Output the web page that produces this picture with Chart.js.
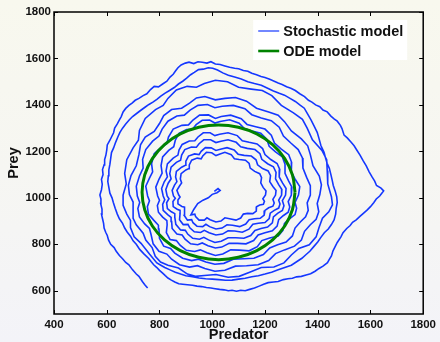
<!DOCTYPE html>
<html><head><meta charset="utf-8">
<script src="https://cdn.jsdelivr.net/npm/chart.js@4.4.0/dist/chart.umd.min.js"></script>
<style>
html,body{margin:0;padding:0;width:440px;height:342px;overflow:hidden;
background:linear-gradient(to bottom,#f8f8ee 0%,#f6f6f2 50%,#f3f3f8 100%);}
canvas{display:block}
</style></head><body>
<canvas id="c" width="440" height="342"></canvas>
<script>
const xTicks = [400, 600, 800, 1000, 1200, 1400, 1600, 1800];
const yTicks = [600, 800, 1000, 1200, 1400, 1600, 1800];
const seriesNames = ['Stochastic model', 'ODE model'];
const axisTitles = ['Predator', 'Prey'];

// stochastic trajectory [predator, prey] (outer loop to centre)
const stochasticPath = [
[755,612],[745,625],[735,640],[722,662],[712,672],[698,690],[684,712],[672,722],[660,738],[648,752],[636,770],[628,786],[615,800],[607,818],[602,838],[596,852],[590,870],[588,890],[584,910],[580,930],[582,952],[577,975],[578,995],[574,1012],[580,1035],[583,1058],[580,1080],[586,1100],[584,1122],[590,1142],[592,1165],[597,1185],[600,1205],[602,1228],[612,1248],[618,1262],[626,1280],[630,1300],[640,1318],[648,1336],[655,1350],[662,1370],[672,1385],[684,1398],[696,1408],[708,1420],[722,1428],[738,1440],[752,1448],[766,1466],[780,1480],[796,1478],[812,1490],[828,1502],[840,1520],[852,1532],[862,1548],[870,1560],[882,1572],[898,1580],[912,1584],[930,1578],[946,1586],[962,1584],[980,1580],[995,1586],[1012,1576],[1030,1574],[1048,1568],[1066,1562],[1085,1558],[1100,1556],[1118,1548],[1135,1545],[1150,1536],[1168,1530],[1185,1522],[1200,1518],[1218,1510],[1235,1502],[1250,1494],[1265,1488],[1282,1478],[1298,1472],[1315,1462],[1332,1448],[1350,1436],[1365,1420],[1378,1412],[1392,1400],[1408,1392],[1420,1378],[1436,1370],[1450,1352],[1462,1340],[1474,1330],[1486,1312],[1492,1298],[1500,1270],[1512,1258],[1526,1240],[1538,1224],[1548,1206],[1561,1183],[1572,1160],[1584,1138],[1595,1112],[1606,1090],[1616,1072],[1623,1053],[1640,1042],[1650,1030],[1643,1020],[1635,1008],[1622,995],[1613,980],[1600,962],[1588,948],[1572,932],[1560,920],[1546,905],[1532,895],[1523,881],[1510,868],[1496,850],[1488,832],[1474,808],[1466,790],[1458,772],[1452,750],[1444,735],[1437,721],[1420,706],[1405,696],[1390,684],[1373,673],[1356,668],[1338,662],[1320,660],[1304,654],[1287,652],[1270,648],[1250,640],[1232,638],[1212,635],[1195,628],[1178,620],[1160,612],[1142,606],[1125,600],[1108,602],[1092,598],[1075,602],[1061,600],[1045,604],[1028,606],[1011,609],[995,612],[978,614],[960,618],[942,620],[925,624],[906,626],[888,628],[873,630],[858,638],[845,646],[832,655],[822,665],[812,676],[800,688],[790,700],[778,712],[768,726],[760,738],
[740,760],[725,778],[712,800],[700,815],[690,835],[678,852],[668,870],[660,890],[648,910],[640,930],[632,955],[625,980],[620,1000],[612,1020],[608,1045],[604,1070],[606,1095],[608,1120],[612,1145],[615,1170],[618,1195],[626,1215],[634,1240],[642,1262],[650,1282],[660,1300],[672,1318],[685,1335],[698,1350],[712,1362],[728,1376],[745,1390],[760,1402],[775,1412],[790,1424],[805,1438],[820,1450],[838,1462],[856,1475],[872,1490],[888,1502],[903,1515],[918,1530],[932,1540],[948,1552],[966,1554],[985,1560],[1002,1558],[1020,1550],[1040,1538],[1061,1528],[1085,1520],[1110,1512],[1135,1500],[1160,1492],[1186,1485],[1210,1472],[1232,1460],[1254,1450],[1274,1442],[1295,1428],[1315,1415],[1332,1400],[1349,1386],[1362,1360],[1375,1335],[1386,1310],[1398,1282],[1405,1255],[1412,1225],[1424,1196],[1430,1170],[1436,1148],[1444,1127],[1450,1100],[1455,1075],[1459,1053],[1466,1030],[1472,1005],[1474,980],[1470,955],[1468,930],[1462,905],[1452,885],[1440,866],[1425,850],[1412,830],[1400,810],[1385,790],[1370,770],[1355,755],[1340,740],[1320,725],[1300,710],[1275,700],[1250,690],[1225,680],[1200,672],[1175,665],[1150,660],[1125,654],[1100,650],[1075,646],[1050,645],[1025,648],[1000,650],[975,652],[950,655],[925,660],[900,665],[880,672],[860,680],[840,690],[820,700],[805,710],[790,720],[762,758],
[730,804],[704,832],[690,872],[690,903],[676,930],[662,968],[662,1012],[674,1060],[668,1105],[676,1164],[700,1215],[720,1248],[724,1290],[746,1342],[785,1380],[814,1398],[832,1428],[864,1464],[905,1480],[940,1476],[970,1492],[1012,1506],[1058,1500],[1100,1476],[1148,1468],[1190,1462],[1226,1440],[1262,1398],[1308,1366],[1342,1338],[1360,1300],[1380,1250],[1416,1204],[1434,1164],[1436,1118],[1438,1060],[1452,1005],[1456,970],[1442,940],[1418,912],[1405,872],[1394,832],[1368,798],[1328,782],[1300,754],[1272,720],[1234,702],[1186,700],[1142,680],[1102,662],[1060,658],[1014,670],[970,666],[936,662],[906,672],[872,698],[832,710],[804,724],[784,748],[772,786],
[748,818],[738,848],[712,884],[700,912],[700,946],[700,982],[686,1014],[682,1054],[692,1096],[712,1138],[722,1186],[728,1228],[746,1262],[780,1286],[800,1320],[816,1354],[846,1380],[884,1386],[914,1408],[940,1430],[972,1436],[1012,1422],[1048,1428],[1088,1432],[1130,1416],[1168,1386],[1214,1370],[1250,1356],[1274,1328],[1300,1288],[1338,1254],[1362,1224],[1372,1186],[1382,1138],[1406,1094],[1414,1056],[1408,1014],[1398,976],[1404,940],[1394,908],[1372,884],[1350,856],[1338,818],[1312,792],[1274,776],[1240,760],[1214,730],[1174,712],[1130,708],[1088,706],[1048,688],[1010,684],[972,696],[944,708],[914,702],[876,712],[846,736],[828,758],[798,770],[776,802],
[768,842],[762,868],[744,888],[724,918],[718,954],[725,980],[716,1008],[712,1050],[724,1094],[738,1128],[736,1166],[748,1208],[774,1244],[798,1266],[810,1296],[832,1330],[866,1352],[894,1356],[916,1378],[946,1398],[982,1402],[1010,1388],[1038,1394],[1080,1398],[1124,1384],[1150,1358],[1186,1344],[1224,1332],[1254,1304],[1270,1266],[1298,1236],[1326,1208],[1342,1172],[1344,1128],[1358,1088],[1372,1052],[1372,1012],[1360,978],[1364,946],[1354,918],[1334,896],[1314,870],[1304,836],[1280,810],[1248,798],[1218,784],[1194,756],[1158,740],[1118,738],[1080,736],[1044,718],[1010,714],[976,724],[948,736],[922,730],[888,740],[858,762],[842,782],[816,792],[800,826],
[798,866],[796,882],[778,904],[758,930],[754,962],[762,987],[755,1008],[748,1050],[762,1085],[774,1112],[770,1147],[780,1190],[805,1216],[828,1234],[834,1262],[852,1296],[885,1312],[910,1314],[927,1335],[952,1356],[986,1357],[1012,1342],[1034,1350],[1070,1356],[1110,1341],[1132,1316],[1165,1306],[1200,1296],[1224,1270],[1236,1236],[1262,1210],[1290,1186],[1301,1153],[1300,1112],[1315,1079],[1332,1048],[1327,1012],[1314,980],[1320,955],[1314,928],[1294,911],[1274,890],[1268,860],[1250,836],[1218,827],[1188,816],[1171,790],[1140,772],[1104,775],[1070,776],[1040,758],[1012,752],[980,764],[955,776],[933,769],[902,774],[878,796],[864,816],[840,821],[826,850],
[829,884],[828,902],[812,917],[796,938],[792,967],[800,990],[793,1008],[786,1046],[798,1080],[810,1106],[806,1139],[812,1176],[835,1204],[854,1220],[860,1248],[874,1278],[903,1294],[926,1296],[939,1315],[962,1334],[990,1335],[1010,1322],[1030,1329],[1066,1336],[1102,1321],[1122,1298],[1151,1288],[1184,1278],[1206,1254],[1216,1222],[1240,1198],[1266,1176],[1276,1145],[1276,1106],[1289,1074],[1302,1046],[1300,1012],[1288,984],[1294,961],[1288,938],[1269,923],[1252,906],[1246,878],[1228,858],[1200,850],[1174,840],[1157,816],[1128,802],[1096,804],[1064,804],[1036,788],[1012,784],[984,794],[962,806],[945,798],[918,802],[897,822],[886,840],[866,844],[848,868],
[846,898],[844,916],[831,928],[814,946],[812,972],[820,992],[814,1008],[808,1040],[818,1069],[830,1090],[825,1116],[830,1146],[852,1171],[870,1184],[874,1206],[886,1230],[913,1245],[934,1246],[946,1262],[966,1280],[992,1280],[1010,1268],[1028,1274],[1060,1280],[1095,1268],[1114,1246],[1140,1239],[1170,1232],[1191,1212],[1200,1186],[1222,1165],[1246,1148],[1256,1122],[1254,1090],[1267,1063],[1280,1040],[1278,1012],[1266,988],[1272,966],[1266,946],[1249,934],[1232,918],[1228,892],[1210,874],[1185,868],[1162,860],[1146,838],[1120,826],[1089,828],[1060,828],[1034,813],[1010,808],[986,819],[968,830],[952,822],[926,826],[907,844],[898,860],[880,862],[862,886],
[858,917],[858,932],[845,940],[830,954],[827,979],[836,996],[829,1008],[824,1036],[833,1063],[844,1082],[839,1104],[844,1132],[864,1153],[880,1162],[884,1184],[896,1208],[921,1219],[940,1218],[950,1233],[968,1250],[994,1250],[1014,1238],[1033,1244],[1060,1250],[1091,1239],[1108,1220],[1133,1213],[1162,1208],[1181,1190],[1188,1166],[1210,1147],[1232,1134],[1242,1110],[1240,1082],[1252,1057],[1264,1036],[1263,1012],[1252,990],[1257,973],[1252,956],[1235,946],[1220,934],[1216,911],[1200,894],[1175,891],[1154,886],[1139,865],[1114,852],[1085,857],[1060,858],[1039,844],[1014,840],[988,850],[970,860],[956,851],[932,854],[915,871],[908,886],[890,885],[876,906],
[878,932],[878,946],[867,951],[852,962],[851,984],[860,998],[853,1008],[848,1032],[857,1055],[866,1070],[861,1090],[864,1114],[884,1132],[898,1140],[900,1158],[910,1180],[933,1189],[950,1186],[958,1200],[974,1216],[996,1215],[1014,1204],[1031,1209],[1056,1216],[1083,1206],[1098,1188],[1121,1183],[1148,1180],[1166,1164],[1172,1142],[1191,1126],[1212,1116],[1221,1096],[1218,1070],[1230,1049],[1242,1032],[1240,1012],[1230,994],[1235,978],[1230,964],[1214,957],[1200,946],[1197,926],[1182,912],[1160,910],[1140,906],[1127,887],[1104,876],[1077,882],[1056,884],[1037,870],[1014,866],[990,876],[976,886],[964,876],[942,878],[927,893],[922,906],[906,904],[894,924],
[894,949],[896,960],[885,963],[870,974],[870,991],[878,1004],[873,1012],[866,1032],[876,1051],[884,1064],[879,1081],[882,1104],[900,1120],[912,1126],[913,1142],[922,1162],[943,1171],[958,1168],[964,1180],[978,1196],[998,1194],[1014,1182],[1027,1188],[1048,1196],[1072,1186],[1084,1168],[1102,1165],[1126,1162],[1140,1148],[1144,1128],[1161,1114],[1180,1104],[1187,1087],[1184,1064],[1193,1045],[1204,1030],[1202,1012],[1192,996],[1198,985],[1194,972],[1180,969],[1168,962],[1167,943],[1154,932],[1134,933],[1118,930],[1108,913],[1090,904],[1066,910],[1048,914],[1033,900],[1014,896],[992,906],[980,914],[970,904],[950,904],[937,919],[934,930],[919,927],
[930,950],[945,975],[965,990],[985,1000],[1000,1015],[1018,1022],[1030,1032],[1022,1040],[1008,1028]
];

// ODE limit cycle [predator, prey]
const odePath = [
[1314,1024],[1304,1099],[1275,1169],[1229,1229],[1169,1275],[1099,1304],[1024,1314],[949,1304],[879,1275],[819,1229],[773,1169],[744,1099],[734,1024],[744,949],[773,879],[819,819],[879,773],[949,744],[1024,734],[1099,744],[1169,773],[1229,819],[1275,879],[1304,949],[1314,1024]
];

const FONT = '"Liberation Sans", Arial, Helvetica, sans-serif';
const toXY = arr => arr.map(p => ({x: p[0], y: p[1]}));

const framePlugin = {
  id: 'frame',
  afterDraw(chart) {
    const {ctx, chartArea: a, scales: {x, y}} = chart;
    ctx.save();
    ctx.strokeStyle = '#000';
    ctx.lineWidth = 1.5;
    ctx.strokeRect(a.left, a.top, a.right - a.left, a.bottom - a.top);
    ctx.lineWidth = 1;
    ctx.beginPath();
    xTicks.forEach(v => {
      const p = Math.round(x.getPixelForValue(v)) + 0.5;
      ctx.moveTo(p, a.bottom); ctx.lineTo(p, a.bottom - 4);
      ctx.moveTo(p, a.top); ctx.lineTo(p, a.top + 4);
    });
    yTicks.forEach(v => {
      const p = Math.round(y.getPixelForValue(v)) + 0.5;
      ctx.moveTo(a.left, p); ctx.lineTo(a.left + 4, p);
      ctx.moveTo(a.right, p); ctx.lineTo(a.right - 4, p);
    });
    ctx.stroke();
    // legend
    const bx = a.right - 170, by = a.top + 8, bw = 154, bh = 40;
    ctx.fillStyle = '#ffffff';
    ctx.fillRect(bx, by, bw, bh);
    const items = [
      {label: seriesNames[0], color: 'rgb(20,55,255)', w: 1.2},
      {label: seriesNames[1], color: 'rgb(0,130,0)', w: 2.6}
    ];
    items.forEach((it, i) => {
      const yy = by + 11 + i * 20;
      ctx.strokeStyle = it.color; ctx.lineWidth = it.w;
      ctx.beginPath(); ctx.moveTo(bx + 5, yy); ctx.lineTo(bx + 26, yy); ctx.stroke();
      ctx.fillStyle = '#111';
      ctx.font = 'bold 14.5px ' + FONT;
      ctx.textBaseline = 'middle'; ctx.textAlign = 'left';
      ctx.fillText(it.label, bx + 30, yy + 1);
    });
    ctx.restore();
  }
};

new Chart(document.getElementById('c'), {
  type: 'line',
  data: {
    datasets: [
      {label: seriesNames[1], data: toXY(odePath), borderColor: 'rgb(0,130,0)', borderWidth: 3, pointRadius: 0, tension: 0.4, order: 0},
      {label: seriesNames[0], data: toXY(stochasticPath), borderColor: 'rgb(20,55,255)', borderWidth: 1.6, pointRadius: 0, tension: 0, order: 1}
    ]
  },
  options: {
    responsive: false,
    animation: false,
    layout: {padding: {left: 0, right: 13, top: 12, bottom: 0}},
    plugins: {legend: {display: false}, tooltip: {enabled: false}},
    scales: {
      x: {
        type: 'linear', min: 400, max: 1800,
        afterBuildTicks: s => { s.ticks = xTicks.map(v => ({value: v})); },
        afterFit: s => { s.height = 28; },
        grid: {display: false, drawTicks: false},
        border: {display: false},
        ticks: {padding: 4, maxRotation: 0, autoSkip: false, color: '#111', font: {family: FONT, size: 11.5, weight: 'bold'}, callback: v => String(v)},
        title: {display: true, text: axisTitles[0], color: '#111', font: {family: FONT, size: 14.5, weight: 'bold', lineHeight: 1}, padding: {top: 0, bottom: 0}}
      },
      y: {
        type: 'linear', min: 500, max: 1800,
        afterBuildTicks: s => { s.ticks = yTicks.map(v => ({value: v})); },
        afterFit: s => { s.width = 54; },
        grid: {display: false, drawTicks: false},
        border: {display: false},
        ticks: {padding: 3, autoSkip: false, color: '#111', font: {family: FONT, size: 11.5, weight: 'bold'}, callback: v => String(v)},
        title: {display: true, text: axisTitles[1], color: '#111', font: {family: FONT, size: 14.5, weight: 'bold', lineHeight: 1}, padding: {top: 7, bottom: 0}}
      }
    }
  },
  plugins: [framePlugin]
});
</script>
</body></html>
